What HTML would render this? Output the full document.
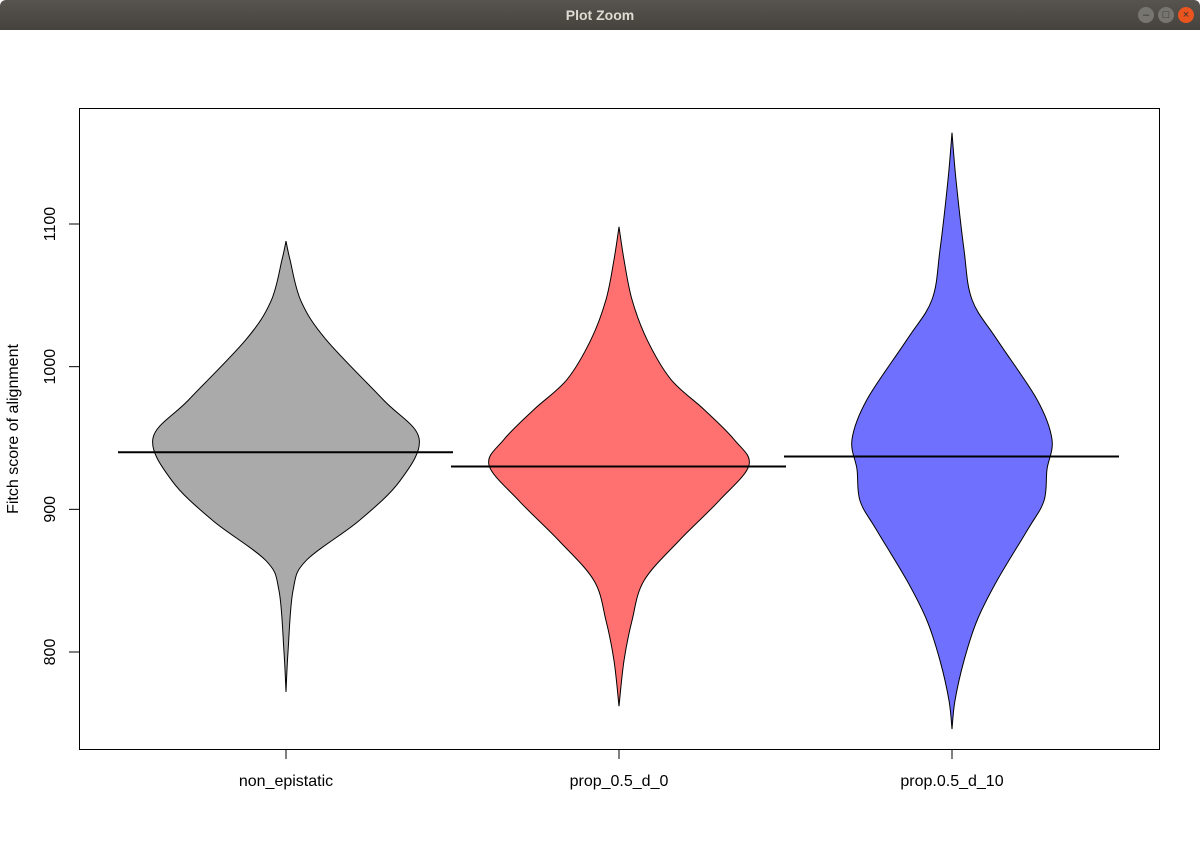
<!DOCTYPE html>
<html><head><meta charset="utf-8"><style>
body{margin:0;width:1200px;height:848px;overflow:hidden;background:#fff;font-family:"Liberation Sans",sans-serif}
#bar{position:absolute;left:0;top:0;width:1200px;height:30px;background:linear-gradient(#57534e,#46433e);border-radius:6px 6px 0 0}
#bar .t{position:absolute;width:100%;text-align:center;top:7px;color:#dfdbd2;font-size:14px;font-weight:bold}
.b{position:absolute;top:7px;width:16px;height:16px;border-radius:50%;background:#77756f;color:#333;font-size:11px;line-height:16px;text-align:center}
</style></head><body>
<div id="bar"><div class="t">Plot Zoom</div>
<div class="b" style="left:1138px">–</div>
<div class="b" style="left:1158px">□</div>
<div class="b" style="left:1178px;background:#e9541f;color:#333">×</div></div>
<svg id="c" width="1200" height="848" style="position:absolute;left:0;top:0"></svg>
<script>
const categories=["non_epistatic","prop_0.5_d_0","prop.0.5_d_10"];
const colors=["#aaaaaa","#ff7070","#7070ff"];
const medians=[940,930,937];
const yTicks=[800,900,1000,1100];
const prof0=[[1088,0],[1075,4],[1046,15],[1019,40],[977,97],[950,133],[920,114],[892,73],[864,20],[843,7],[800,2],[772,0]];
const prof1=[[1098,0],[1075,5],[1047,13],[1019,28],[991,52],[970,85],[949,115],[931,130],[906,100],[878,60],[850,25],[822,13],[794,5],[762,0]];
const prof2=[[1164,0],[1131,4],[1082,12],[1047,20],[1019,45],[977,85],[949,100],[928,95],[906,92],[885,75],[850,45],[822,25],[794,12],[766,3],[746,0]];
const profiles=[prof0,prof1,prof2];
const NS="http://www.w3.org/2000/svg",svg=document.getElementById('c');
const L=79,R=1159,T=108,B=749;
const y=v=>224+(1100-v)*1.4267;
const x=i=>286+i*333;
function mk(t,a,p){const e=document.createElementNS(NS,t);for(const k in a)e.setAttribute(k,a[k]);(p||svg).appendChild(e);return e;}
function smooth(pts){let d=`M${pts[0][0]},${pts[0][1]}`;for(let i=0;i<pts.length-1;i++){const p0=pts[Math.max(0,i-1)],p1=pts[i],p2=pts[i+1],p3=pts[Math.min(pts.length-1,i+2)];d+=` C${p1[0]+(p2[0]-p0[0])/6},${p1[1]+(p2[1]-p0[1])/6} ${p2[0]-(p3[0]-p1[0])/6},${p2[1]-(p3[1]-p1[1])/6} ${p2[0]},${p2[1]}`;}return d;}
profiles.forEach((pr,i)=>{
 const cx=x(i);
 const right=pr.map(p=>[cx+p[1],y(p[0])]);
 const left=pr.slice().reverse().map(p=>[cx-p[1],y(p[0])]);
 const d=smooth(right)+smooth(left).replace(/^M[^C]*/,' L'+left[0][0]+','+left[0][1])+'Z';
 const e=mk('path',{d:d,fill:colors[i],stroke:'#000','stroke-width':1});
 
 
});
medians.forEach((m,i)=>{
 const e=mk('line',{x1:x(i)-168,x2:x(i)+167,y1:y(m),y2:y(m),stroke:'#000','stroke-width':2});
 
 
});
const box=mk('rect',{x:L+.5,y:T+.5,width:R-L,height:B-T,fill:'none',stroke:'#000'});


yTicks.forEach(v=>{
 const t=mk('line',{x1:69,x2:79,y1:y(v),y2:y(v),stroke:'#000'});
 
 
 const l=mk('text',{x:0,y:0,transform:`translate(55,${y(v)}) rotate(-90)`,'text-anchor':'middle','font-size':16,'font-family':'Liberation Sans'});
 l.textContent=v;
 
 
});
categories.forEach((c,i)=>{
 const t=mk('line',{x1:x(i),x2:x(i),y1:749,y2:759,stroke:'#000'});
 
 
 const l=mk('text',{x:x(i),y:786,'text-anchor':'middle','font-size':16,'font-family':'Liberation Sans'});
 l.textContent=c;
 
 
});
const yt=mk('text',{transform:'translate(18,429) rotate(-90)','text-anchor':'middle','font-size':16,'font-family':'Liberation Sans'});
yt.textContent='Fitch score of alignment';


</script>
</body></html>
